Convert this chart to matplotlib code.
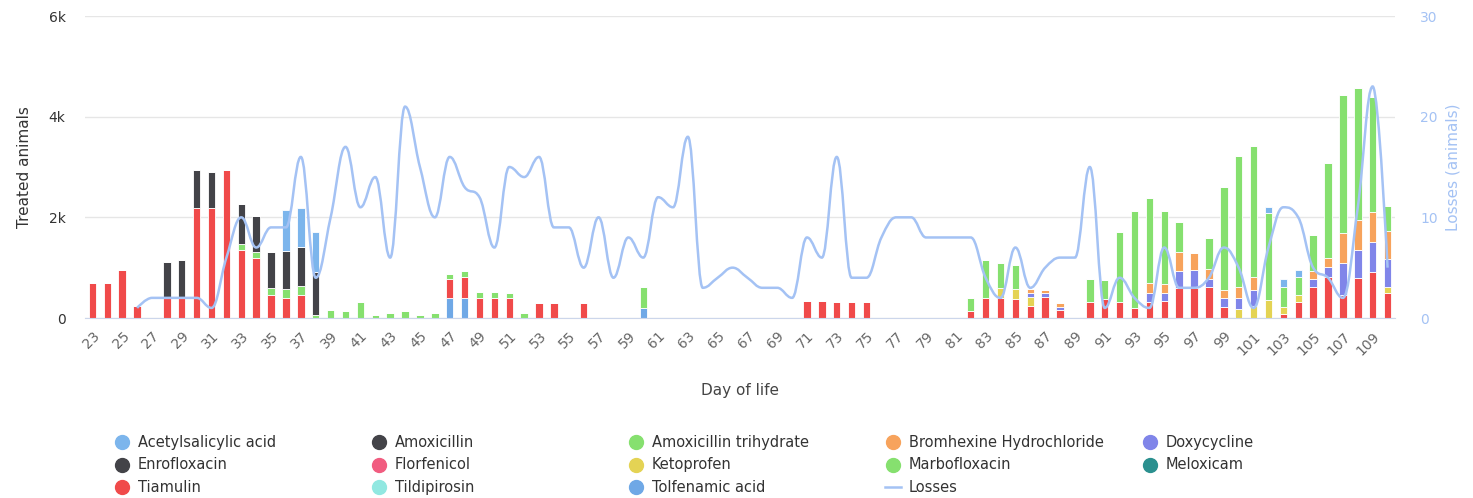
import numpy as np
import matplotlib
matplotlib.use("Agg")
import matplotlib.pyplot as plt
from matplotlib.path import Path
from matplotlib.patches import PathPatch
from matplotlib.lines import Line2D
import matplotlib.ticker as mtick

matplotlib.rcParams.update({'font.family': 'DejaVu Sans'})

days = list(range(23, 111))

# treated animals per drug, {day: animals}
acetylsalicylic = {36: 810, 37: 770, 38: 790, 102: 120, 103: 145, 104: 130}
amoxicillin = {28: 720, 29: 750, 30: 750, 31: 720}
amox_trihydrate = {47: 100, 48: 120, 49: 120, 50: 120, 51: 110, 60: 420, 82: 260, 83: 760,
                   84: 500, 85: 480, 90: 450, 91: 390, 92: 1380, 93: 1940, 94: 1690, 95: 1450,
                   96: 580, 98: 610, 99: 2050, 100: 2600, 101: 2610, 102: 1720, 103: 395,
                   104: 360, 105: 700, 106: 1880, 107: 2760, 108: 2620, 109: 2290, 110: 500}
bromhexine = {86: 70, 87: 70, 88: 65, 94: 190, 95: 190, 96: 380, 97: 330, 98: 200, 99: 170,
              100: 230, 101: 250, 105: 170, 106: 170, 107: 590, 108: 600, 109: 610, 110: 560}
doxycycline = {86: 80, 87: 70, 88: 65, 94: 180, 95: 150, 96: 350, 97: 370, 98: 160, 99: 180,
               100: 220, 101: 320, 105: 160, 106: 200, 107: 630, 108: 560, 109: 580, 110: 560}
enrofloxacin = {33: 780, 34: 710, 35: 720, 36: 760, 37: 790, 38: 870}
florfenicol = {}
ketoprofen = {84: 200, 85: 200, 86: 180, 100: 170, 101: 240, 102: 360, 103: 145, 104: 135, 110: 120}
marbofloxacin = {33: 130, 34: 130, 35: 140, 36: 180, 37: 170, 38: 50, 39: 160, 40: 130, 41: 310,
                 42: 50, 43: 100, 44: 130, 45: 60, 46: 90, 52: 90}
meloxicam = {}
tiamulin = {23: 700, 24: 700, 25: 950, 26: 230, 28: 400, 29: 400, 30: 2190, 31: 2190, 32: 2940,
            33: 1350, 34: 1190, 35: 460, 36: 400, 37: 460, 47: 380, 48: 430, 49: 390, 50: 390,
            51: 390, 53: 290, 54: 290, 56: 290, 71: 340, 72: 340, 73: 310, 74: 310, 75: 310,
            82: 130, 83: 390, 84: 390, 85: 370, 86: 240, 87: 420, 88: 160, 90: 320, 91: 370,
            92: 320, 93: 190, 94: 320, 95: 340, 96: 590, 97: 590, 98: 610, 99: 210, 103: 80,
            104: 325, 105: 610, 106: 820, 107: 460, 108: 790, 109: 920, 110: 490}
tildipirosin = {}
tolfenamic = {47: 390, 48: 390, 60: 200}

# losses (animals), starting on day 26
losses = [1, 2, 2, 2, 2, 1, 6, 10, 7, 9, 9, 16, 4, 10, 17, 11, 14, 6, 21, 15, 10, 16, 13, 12, 7,
          15, 14, 16, 9, 9, 5, 10, 4, 8, 6, 12, 11, 18, 3, 4, 5, 4, 3, 3, 2, 8, 6, 16, 4, 4, 8,
          10, 10, 8, 8, 8, 8, 4, 2, 7, 3, 5, 6, 6, 15, 1, 4, 2, 1, 7, 3, 3, 4, 7, 5, 1, 7, 11,
          10, 5, 4, 2, 11, 23, 5]
losses_start = 26

# legend order (first series drawn on top of the stack, like highcharts)
series = [
    ('Acetylsalicylic acid', acetylsalicylic, '#7cb5ec'),
    ('Amoxicillin', amoxicillin, '#434348'),
    ('Amoxicillin trihydrate', amox_trihydrate, '#86e06f'),
    ('Bromhexine Hydrochloride', bromhexine, '#f7a35c'),
    ('Doxycycline', doxycycline, '#8085e9'),
    ('Enrofloxacin', enrofloxacin, '#434348'),
    ('Florfenicol', florfenicol, '#f15c80'),
    ('Ketoprofen', ketoprofen, '#e4d354'),
    ('Marbofloxacin', marbofloxacin, '#86e06f'),
    ('Meloxicam', meloxicam, '#2b908f'),
    ('Tiamulin', tiamulin, '#f04a4a'),
    ('Tildipirosin', tildipirosin, '#91e8e1'),
    ('Tolfenamic acid', tolfenamic, '#6fa8e6'),
]
line_color = '#a4c2f4'


def spline_path(xs, ys, s=1.5):
    n = len(xs)
    lc = [(x, y) for x, y in zip(xs, ys)]
    rc = [(x, y) for x, y in zip(xs, ys)]
    for i in range(1, n - 1):
        x0, y0, x, y, x2, y2 = xs[i-1], ys[i-1], xs[i], ys[i], xs[i+1], ys[i+1]
        lx = (s * x + x0) / (s + 1)
        ly = (s * y + y0) / (s + 1)
        rx = (s * x + x2) / (s + 1)
        ry = (s * y + y2) / (s + 1)
        corr = ((ry - ly) * (rx - x)) / (rx - lx) + y - ry
        ly += corr
        ry += corr
        if ly > y0 and ly > y:
            ly = max(y0, y); ry = 2 * y - ly
        elif ly < y0 and ly < y:
            ly = min(y0, y); ry = 2 * y - ly
        if ry > y2 and ry > y:
            ry = max(y2, y); ly = 2 * y - ry
        elif ry < y2 and ry < y:
            ry = min(y2, y); ly = 2 * y - ry
        lc[i] = (lx, ly)
        rc[i] = (rx, ry)
    verts = [(xs[0], ys[0])]
    codes = [Path.MOVETO]
    for i in range(1, n):
        verts += [rc[i-1], lc[i], (xs[i], ys[i])]
        codes += [Path.CURVE4] * 3
    return Path(verts, codes)


fig = plt.figure(figsize=(14.73, 4.98), dpi=100)
ax = fig.add_axes([85/1473, 1 - 318/498, 1310/1473, 302/498])
ax2 = ax.twinx()

x = np.arange(len(days))
bottom = np.zeros(len(days))
for nome, dados, cor in reversed(series):
    vals = np.array([dados.get(d, 0) for d in days], dtype=float)
    if vals.sum() == 0:
        continue
    ax.bar(x, vals, 0.5, bottom=bottom, color=cor, edgecolor='white', linewidth=0.6, zorder=2)
    bottom += vals

lx = np.array([days.index(losses_start) + i for i in range(len(losses))], dtype=float)
ax2.add_patch(PathPatch(spline_path(lx, np.array(losses, dtype=float)), facecolor='none',
                        edgecolor=line_color, linewidth=1.8, zorder=3))

ax.set_xlim(-0.5, len(days) - 0.5)
ax.set_ylim(0, 6000)
ax2.set_ylim(0, 30)
ax.set_yticks([0, 2000, 4000, 6000])
ax.yaxis.set_major_formatter(mtick.FuncFormatter(lambda v, p: '0' if v == 0 else f'{int(v/1000)}k'))
ax2.set_yticks([0, 10, 20, 30])

ax.grid(axis='y', color='#e6e6e6', linewidth=1, zorder=0)
ax.set_axisbelow(True)
for a in (ax, ax2):
    for sp in a.spines.values():
        sp.set_visible(False)
ax.spines['bottom'].set_visible(True)
ax.spines['bottom'].set_color('#ccd6eb')

odd = [i for i, d in enumerate(days) if d % 2 == 1]
ax.set_xticks(odd)
ax.set_xticklabels([str(days[i]) for i in odd], rotation=45, ha='right', va='top',
                   rotation_mode='anchor', color='#666666', fontsize=10)
ax.tick_params(axis='x', length=0, pad=8)
ax.tick_params(axis='y', length=0, labelsize=10, labelcolor='#333333', pad=14)
ax2.tick_params(axis='y', length=0, labelsize=10, labelcolor='#a4c2f4', pad=18)

ax.set_xlabel('Day of life', fontsize=11, color='#444444', labelpad=18)
ax.set_ylabel('Treated animals', fontsize=11, color='#333333', labelpad=12)
ax2.set_ylabel('Losses (animals)', fontsize=11, color='#a4c2f4', labelpad=6)

# legend, row by row like the original
itens = [(nome, cor, 'o') for nome, _, cor in series] + [('Losses', line_color, '-')]
for k, (nome, cor, tipo) in enumerate(itens):
    lin, col = divmod(k, 5)
    xm = (122 + col * 257) / 1473
    ym = 1 - (442 + lin * 22.5) / 498
    if tipo == 'o':
        fig.add_artist(Line2D([xm], [ym], marker='o', markersize=10, color=cor,
                              linestyle='none', transform=fig.transFigure))
    else:
        fig.add_artist(Line2D([xm - 8/1473, xm + 8/1473], [ym, ym], color=cor,
                              linewidth=1.8, transform=fig.transFigure))
    fig.text(xm + 16/1473, ym, nome, fontsize=10.5, color='#333333', va='center', ha='left')

fig.savefig('out.png', dpi=100)
